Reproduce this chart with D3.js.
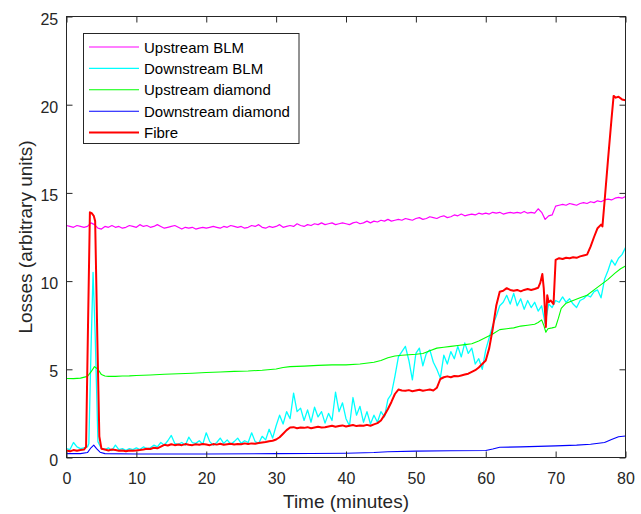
<!DOCTYPE html>
<html><head><meta charset="utf-8">
<script src="https://cdn.jsdelivr.net/npm/d3@7"></script>
<style>body{margin:0;background:#fff;} svg{display:block;font-family:"Liberation Sans",Arial,Helvetica,sans-serif;}</style>
</head><body><svg id="c" width="641" height="514"></svg>
<script>
// ---- data (time in minutes, losses in arbitrary units) ----
const xTicks = [0, 10, 20, 30, 40, 50, 60, 70, 80];
const yTicks = [0, 5, 10, 15, 20, 25];
const seriesNames = ["Upstream BLM", "Downstream BLM", "Upstream diamond", "Downstream diamond", "Fibre"];
const seriesColors = ["#ff00ff", "#00ffff", "#00ff00", "#0000ff", "#ff0000"];

const upstreamBLM = [[0,13.15],[0.5,13.1],[1,13.05],[1.5,13.15],[2,13.1],[2.5,13.05],[3,13.1],[3.5,13.3],[4,13.2],[4.5,13.0],[5,12.95],[5.5,13.1],[6,13.05],[6.5,13.15],[7,13.05],[7.5,13.1],[8,13.0],[8.5,13.05],[9,13.15],[9.5,13.1],[10,13.05],
[10.5,13.2],[11,13.1],[11.5,13.15],[12,13.05],[12.5,13.1],[13,13.2],[13.5,13.1],[14,13.0],[14.5,13.05],[15,13.1],[15.5,13.15],[16,13.05],[16.5,12.95],[17,13.05],[17.5,13.0],[18,13.05],[18.5,12.95],[19,13.0],[19.5,13.05],[20,13.0],
[20.5,13.05],[21,13.1],[21.5,13.05],[22,13.0],[22.5,13.1],[23,13.05],[23.5,13.15],[24,13.1],[24.5,13.05],[25,13.1],[25.5,13.0],[26,13.05],[26.5,13.15],[27,13.1],[27.5,13.2],[28,13.05],[28.5,13.0],[29,13.1],[29.5,13.05],[30,13.1],
[30.5,13.2],[31,13.05],[31.5,13.1],[32,13.15],[32.5,13.1],[33,13.25],[33.5,13.15],[34,13.1],[34.5,13.2],[35,13.15],[35.5,13.25],[36,13.2],[36.5,13.3],[37,13.2],[37.5,13.25],[38,13.3],[38.5,13.2],[39,13.25],[39.5,13.3],[40,13.25],
[40.5,13.2],[41,13.3],[41.5,13.35],[42,13.25],[42.5,13.3],[43,13.4],[43.5,13.3],[44,13.4],[44.5,13.35],[45,13.45],[45.5,13.4],[46,13.5],[46.5,13.4],[47,13.45],[47.5,13.5],[48,13.45],[48.5,13.55],[49,13.5],[49.5,13.45],[50,13.55],
[50.5,13.6],[51,13.5],[51.5,13.55],[52,13.65],[52.5,13.6],[53,13.55],[53.5,13.65],[54,13.7],[54.5,13.6],[55,13.65],[55.5,13.75],[56,13.7],[56.5,13.8],[57,13.7],[57.5,13.75],[58,13.8],[58.5,13.75],[59,13.85],[59.5,13.8],[60,13.85],
[60.5,13.8],[61,13.9],[61.5,13.85],[62,13.9],[62.5,13.8],[63,13.85],[63.5,13.9],[64,13.85],[64.5,13.9],[65,13.85],[65.5,13.95],[66,13.85],[66.5,13.9],[67,13.85],[67.5,14.1],[68,13.9],[68.5,13.5],[69,13.7],[69.5,13.75],[70,14.25],
[70.5,14.3],[71,14.35],[71.5,14.3],[72,14.4],[72.5,14.35],[73,14.3],[73.5,14.4],[74,14.45],[74.5,14.4],[75,14.5],[75.5,14.45],[76,14.55],[76.5,14.5],[77,14.6],[77.5,14.65],[78,14.6],[78.5,14.7],[79,14.75],[79.5,14.7],[80,14.8]];

const downstreamBLM = [[0,0.5],[0.5,0.45],[1,0.85],[1.5,0.6],[2,0.5],[2.5,0.55],[3,0.6],[3.2,0.8],[3.5,6],[3.8,10.5],[4.1,7],[4.5,0.9],[5,0.5],[5.5,0.45],[6,0.55],[6.5,0.4],[7,0.7],[7.5,0.45],[8,0.5],[8.5,0.4],[9,0.5],[9.5,0.45],[10,0.55],
[10.5,0.45],[11,0.6],[11.5,0.5],[12,0.55],[12.5,0.7],[13,0.6],[13.5,0.85],[14,0.7],[14.5,0.95],[15,1.25],[15.5,0.8],[16,0.75],[16.5,0.85],[17,0.7],[17.5,1.15],[18,0.85],[18.5,0.8],[19,0.95],[19.5,0.75],[20,1.4],
[20.5,0.9],[21,0.7],[21.5,0.85],[22,1.1],[22.5,0.8],[23,1.0],[23.5,0.75],[24,0.9],[24.5,1.1],[25,0.8],[25.5,0.95],[26,0.85],[26.5,1.4],[27,0.9],[27.5,0.8],[28,1.2],[28.5,1.0],[29,1.6],[29.5,1.1],[30,1.8],
[30.5,2.4],[31,1.9],[31.5,2.6],[32,2.2],[32.5,3.65],[33,2.6],[33.5,2.8],[34,2.1],[34.5,2.7],[35,2.0],[35.5,2.85],[36,2.3],[36.5,2.6],[37,1.95],[37.5,2.5],[38,2.1],[38.5,3.7],[39,2.6],[39.5,3.1],[40,2.2],
[40.5,1.8],[41,3.4],[41.5,2.4],[42,2.9],[42.5,2.0],[43,2.6],[43.5,1.9],[44,2.4],[44.5,2.0],[45,2.6],[45.5,2.3],[46,3.3],[46.5,3.6],[47,4.6],[47.5,5.7],[48,6.0],[48.5,6.3],[49,5.5],[49.5,4.4],[50,5.9],
[50.5,6.2],[51,5.2],[51.5,5.9],[52,6.1],[52.5,5.4],[53,5.0],[53.5,4.5],[54,5.8],[54.5,5.3],[55,6.0],[55.5,5.6],[56,6.3],[56.5,5.7],[57,6.5],[57.5,5.9],[58,6.2],[58.5,5.3],[59,5.6],[59.5,5.0],[60,6.1],
[60.5,6.8],[61,7.5],[61.5,8.0],[62,8.6],[62.5,8.8],[63,9.2],[63.5,8.7],[64,9.3],[64.5,8.6],[65,9.0],[65.5,8.4],[66,8.9],[66.5,8.5],[67,8.8],[67.5,8.3],[68,8.6],[68.5,7.6],[69,8.7],[69.5,8.5],[70,8.9],
[70.5,8.8],[71,9.1],[71.5,8.8],[72,9.0],[72.5,8.7],[73,8.5],[73.5,8.9],[74,9.0],[74.5,9.2],[75,9.1],[75.5,9.4],[76,9.5],[76.5,9.05],[77,10.1],[77.5,10.6],[78,11.2],[78.5,10.9],[79,11.3],[79.5,11.5],[80,11.9]];

const upstreamDiamond = [[0,4.48],[1,4.47],[2,4.5],[3,4.6],[3.5,4.85],[4,5.15],[4.5,5.0],[5,4.7],[5.5,4.62],[6,4.6],[7,4.6],[8,4.62],[9,4.63],[10,4.65],[12,4.68],[14,4.72],[16,4.75],[18,4.78],[20,4.82],[22,4.85],[24,4.88],[26,4.9],[28,4.95],[30,5.02],[31,5.1],[32,5.15],[34,5.18],[36,5.22],[38,5.25],[40,5.25],[42,5.3],[44,5.4],[45,5.5],[46,5.65],[47,5.75],[48,5.8],[50,5.85],[51,5.9],[52,6.05],[53,6.2],[54,6.25],[55,6.3],[56,6.35],[57,6.4],[58,6.45],[59,6.6],[60,6.8],[61,7.0],[62,7.25],[63,7.3],[64,7.35],[65,7.45],[66,7.5],[67,7.55],[67.5,7.65],[68,7.8],[68.3,7.5],[68.6,7.1],[68.9,7.3],[69.5,7.35],[70,7.4],[70.4,7.9],[70.8,8.45],[71.5,8.75],[72.5,8.9],[73.5,9.05],[74.5,9.2],[75.5,9.5],[76.5,9.8],[77.5,10.1],[78.5,10.45],[79.3,10.7],[80,10.85]];

const downstreamDiamond = [[0,0.22],[2,0.22],[3,0.28],[3.5,0.55],[3.9,0.7],[4.3,0.5],[4.8,0.3],[5.5,0.22],[10,0.2],[20,0.2],[30,0.22],[35,0.23],[40,0.24],[44,0.28],[46,0.33],[50,0.36],[55,0.38],[60,0.4],[61,0.48],[62,0.58],[65,0.6],[70,0.66],[73,0.7],[75,0.75],[77,0.85],[78,1.02],[79,1.18],[80,1.22]];

const fibre = [[0,0.4],[0.5,0.35],[1,0.42],[1.5,0.38],[2,0.42],[2.5,0.45],[2.8,0.6],[3.1,8],[3.35,13.9],[3.6,13.85],[3.9,13.7],[4.1,13.4],[4.4,7],[4.7,1.2],[5,0.5],[5.5,0.45],[6,0.4],[6.5,0.45],[7,0.42],[7.5,0.38],[8,0.4],[8.5,0.35],[9,0.4],[9.5,0.38],[10,0.4],[10.5,0.42],[11,0.45],[11.5,0.5],[12,0.48],[12.5,0.55],[13,0.52],[13.5,0.62],[14,0.72],[14.5,0.68],[15,0.75],[15.5,0.7],[16,0.74],[16.5,0.7],[17,0.76],[17.5,0.72],[18,0.7],[18.5,0.75],[19,0.72],[19.5,0.76],[20,0.74],[20.5,0.7],[21,0.76],[21.5,0.73],[22,0.78],[22.5,0.72],[23,0.75],[23.5,0.78],[24,0.74],[24.5,0.77],[25,0.75],[25.5,0.8],[26,0.76],[26.5,0.8],[27,0.78],[27.5,0.82],[28,0.85],[28.5,0.88],[29,0.92],[29.5,0.95],[30,1.02],[30.5,1.15],[31,1.35],[31.5,1.55],[32,1.7],[32.5,1.72],[33,1.66],[33.5,1.7],[34,1.68],[34.5,1.72],[35,1.66],[35.5,1.7],[36,1.74],[36.5,1.7],[37,1.72],[37.5,1.76],[38,1.8],[38.5,1.74],[39,1.78],[39.5,1.82],[40,1.76],[40.5,1.8],[41,1.84],[41.5,1.78],[42,1.82],[42.5,1.8],[43,1.85],[43.5,1.8],[44,1.88],[44.5,1.95],[45,2.1],[45.5,2.4],[46,2.75],[46.5,3.15],[47,3.6],[47.5,3.85],[48,3.8],[48.5,3.78],[49,3.82],[49.5,3.76],[50,3.8],[50.5,3.84],[51,3.78],[51.5,3.82],[52,3.85],[52.5,3.8],[53,3.95],[53.5,4.45],[54,4.55],[54.5,4.6],[55,4.55],[55.5,4.62],[56,4.6],[56.5,4.65],[57,4.7],[57.5,4.75],[58,4.85],[58.5,4.95],[59,5.1],[59.5,5.3],[60,5.5],[60.5,6.2],[61,7.3],[61.5,8.6],[62,9.4],[62.5,9.45],[63,9.6],[63.5,9.5],[64,9.45],[64.5,9.5],[65,9.42],[65.5,9.5],[66,9.55],[66.5,9.5],[67,9.55],[67.5,9.62],[67.8,9.9],[68.1,10.4],[68.3,9.6],[68.6,7.4],[68.8,9.2],[69,8.8],[69.3,8.9],[69.7,8.7],[70,11.2],[70.5,11.3],[71,11.25],[71.5,11.32],[72,11.3],[72.5,11.35],[73,11.32],[73.5,11.4],[74,11.45],[74.5,11.5],[75,11.95],[75.5,12.5],[76,13.0],[76.5,13.2],[76.7,13.1],[77,14.5],[77.5,16.9],[78,19.2],[78.3,20.5],[78.6,20.4],[79,20.45],[79.5,20.3],[80,20.25]];

const seriesData = [upstreamBLM, downstreamBLM, upstreamDiamond, downstreamDiamond, fibre];
const seriesWidths = [1.2, 1.3, 1.1, 1.1, 2.0];

// ---- layout ----
const m = {l: 66.5, r: 625.5, t: 16.5, b: 457.5};
const axisColor = "#262626";
const svg = d3.select("#c");
svg.append("rect").attr("width", 641).attr("height", 514).attr("fill", "#fff");

const x = d3.scaleLinear().domain([0, 80]).range([m.l, m.r]);
const y = d3.scaleLinear().domain([0, 25]).range([m.b, m.t]);

svg.append("defs").append("clipPath").attr("id", "clip")
  .append("rect").attr("x", m.l).attr("y", m.t).attr("width", m.r - m.l).attr("height", m.b - m.t);

const line = d3.line().x(d => x(d[0])).y(d => y(d[1]));
const plot = svg.append("g").attr("clip-path", "url(#clip)");
seriesData.forEach((data, i) => {
  plot.append("path").attr("d", line(data)).attr("fill", "none")
    .attr("stroke", seriesColors[i]).attr("stroke-width", seriesWidths[i])
    .attr("stroke-linejoin", "round");
});

// axes
function styleAxis(g) {
  g.select(".domain").remove();
  g.selectAll(".tick line").attr("stroke", axisColor).attr("stroke-width", 1);
  g.selectAll(".tick text").attr("fill", axisColor).attr("font-size", 16)
    .attr("font-family", '"Liberation Sans",Arial,sans-serif');
}
svg.append("g").attr("transform", `translate(0,${m.b})`)
  .call(d3.axisBottom(x).tickValues(xTicks).tickSizeInner(-6).tickSizeOuter(0).tickPadding(15.6))
  .call(styleAxis);
svg.append("g").attr("transform", `translate(0,${m.t})`)
  .call(d3.axisTop(x).tickValues(xTicks).tickSizeInner(-6).tickSizeOuter(0).tickFormat(""))
  .call(styleAxis);
const gl = svg.append("g").attr("transform", `translate(${m.l},0)`)
  .call(d3.axisLeft(y).tickValues(yTicks).tickSizeInner(-6).tickSizeOuter(0).tickPadding(8.3))
  .call(styleAxis);
gl.selectAll(".tick text").attr("dy", "0.47em");
svg.append("g").attr("transform", `translate(${m.r},0)`)
  .call(d3.axisRight(y).tickValues(yTicks).tickSizeInner(-6).tickSizeOuter(0).tickFormat(""))
  .call(styleAxis);

svg.append("rect").attr("x", m.l).attr("y", m.t).attr("width", m.r - m.l).attr("height", m.b - m.t)
  .attr("fill", "none").attr("stroke", axisColor).attr("stroke-width", 1);

// axis labels
svg.append("text").attr("x", (m.l + m.r) / 2).attr("y", 508).attr("text-anchor", "middle")
  .attr("font-size", 19).attr("fill", axisColor).text("Time (minutes)");
svg.append("text").attr("transform", `translate(32,${(m.t + m.b) / 2}) rotate(-90)`)
  .attr("text-anchor", "middle").attr("font-size", 19).attr("fill", axisColor)
  .text("Losses (arbitrary units)");

// legend
const lg = svg.append("g");
lg.append("rect").attr("x", 83.5).attr("y", 33.5).attr("width", 215.5).attr("height", 110)
  .attr("fill", "#fff").attr("stroke", axisColor).attr("stroke-width", 1);
seriesNames.forEach((name, i) => {
  const yy = 47 + i * 21.4;
  lg.append("line").attr("x1", 89).attr("x2", 139).attr("y1", yy).attr("y2", yy)
    .attr("stroke", seriesColors[i]).attr("stroke-width", seriesWidths[i]);
  lg.append("text").attr("x", 144).attr("y", yy + 5.5).attr("font-size", 15)
    .attr("fill", "#000").text(name);
});
</script>
</body></html>
